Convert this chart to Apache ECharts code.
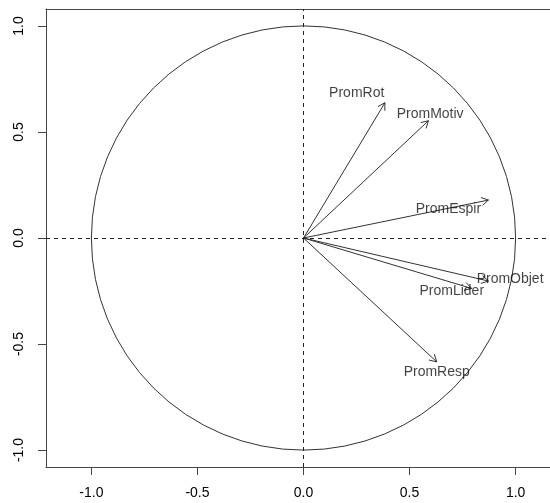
<!DOCTYPE html>
<html>
<head>
<meta charset="utf-8">
<script src="https://cdn.jsdelivr.net/npm/echarts@6/dist/echarts.min.js"></script>
<style>
html,body{margin:0;padding:0;background:#fff;overflow:hidden;width:550px;height:503px;}
#chart{width:580px;height:503px;}
</style>
</head>
<body>
<div id="chart"></div>
<script>
// Variable names
var variables = ['PromRot', 'PromMotiv', 'PromEspir', 'PromObjet', 'PromLider', 'PromResp'];
// Arrow tips (correlation with Dim 1 and Dim 2)
var dim1 = [0.384, 0.589, 0.872, 0.872, 0.793, 0.628];
var dim2 = [0.638, 0.553, 0.179, -0.203, -0.238, -0.584];
// Label anchor positions (data units)
var labelX = [0.251, 0.597, 0.683, 0.974, 0.699, 0.628];
var labelY = [0.682, 0.584, 0.136, -0.194, -0.249, -0.631];
// Tick labels
var ticks = [-1.0, -0.5, 0.0, 0.5, 1.0];

var chart = echarts.init(document.getElementById('chart'), null, {renderer: 'canvas'});

var arrowData = dim1.map(function (v, i) { return [v, dim2[i]]; });
var labelData = labelX.map(function (v, i) { return {name: variables[i], value: [v, labelY[i]]}; });

var font = '"Liberation Sans", Arial, sans-serif';
var boxLine = {show: true, onZero: false, lineStyle: {color: '#444', width: 1}};

var option = {
  animation: false,
  backgroundColor: '#ffffff',
  grid: {
    left: 46, top: 9, width: 515, height: 458, show: false
  },
  xAxis: [{
    type: 'value', min: -1.214, max: 1.214, position: 'bottom',
    axisLine: boxLine,
    splitLine: {show: false},
    axisTick: {show: true, inside: false, length: 8, customValues: ticks, lineStyle: {color: '#444'}},
    axisLabel: {show: true, customValues: ticks, margin: 19, color: '#000', fontSize: 14, fontFamily: font,
      formatter: function (v) { return v.toFixed(1); }}
  }, {
    type: 'value', min: -1.214, max: 1.214, position: 'top',
    axisLine: boxLine,
    splitLine: {show: false},
    axisTick: {show: false},
    axisLabel: {show: false}
  }],
  yAxis: {
    type: 'value', min: -1.08, max: 1.08, position: 'left',
    axisLine: boxLine,
    splitLine: {show: false},
    axisTick: {show: true, inside: false, length: 8, customValues: ticks, lineStyle: {color: '#444'}},
    axisLabel: {show: true, customValues: ticks, margin: 20, rotate: 90, color: '#000', fontSize: 14, fontFamily: font,
      formatter: function (v) { return v.toFixed(1); }}
  },
  series: [
    {
      type: 'custom',
      name: 'circle',
      coordinateSystem: 'cartesian2d',
      data: [[0, 0]],
      silent: true,
      renderItem: function (params, api) {
        var c = api.coord([0, 0]);
        var r = api.size([1, 0])[0];
        return {
          type: 'circle',
          shape: {cx: c[0], cy: c[1], r: r},
          style: {fill: null, stroke: '#333', lineWidth: 1}
        };
      },
      markLine: {
        silent: true,
        symbol: 'none',
        label: {show: false},
        lineStyle: {color: '#222', width: 1, type: [4, 4]},
        data: [{xAxis: 0}, {yAxis: 0}]
      }
    },
    {
      type: 'custom',
      name: 'arrows',
      coordinateSystem: 'cartesian2d',
      data: arrowData,
      silent: true,
      renderItem: function (params, api) {
        var o = api.coord([0, 0]);
        var t = api.coord([api.value(0), api.value(1)]);
        var ang = Math.atan2(t[1] - o[1], t[0] - o[0]);
        var L = 8, a = Math.PI / 6;
        var h1 = [t[0] - L * Math.cos(ang - a), t[1] - L * Math.sin(ang - a)];
        var h2 = [t[0] - L * Math.cos(ang + a), t[1] - L * Math.sin(ang + a)];
        return {
          type: 'group',
          children: [
            {type: 'line', shape: {x1: o[0], y1: o[1], x2: t[0], y2: t[1]}, style: {stroke: '#333', lineWidth: 1}},
            {type: 'polyline', shape: {points: [h1, t, h2]}, style: {stroke: '#333', lineWidth: 1, fill: null}}
          ]
        };
      }
    },
    {
      type: 'scatter',
      name: 'labels',
      data: labelData,
      symbolSize: 1,
      silent: true,
      itemStyle: {color: 'transparent'},
      label: {
        show: true, position: 'inside', formatter: '{b}',
        color: '#111', fontSize: 14, fontFamily: font
      }
    }
  ]
};
chart.setOption(option);
</script>
</body>
</html>
